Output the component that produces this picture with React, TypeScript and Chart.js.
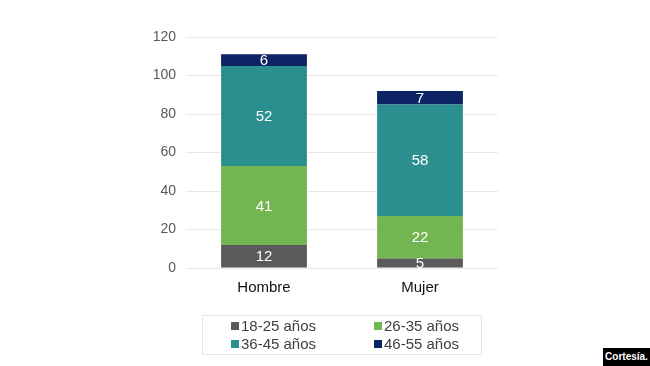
import React, { useEffect, useRef } from "react";
import { Chart, registerables } from "chart.js";

Chart.register(...registerables);

const categories = ["Hombre", "Mujer"];
const seriesNames = ["18-25 años", "26-35 años", "36-45 años", "46-55 años"];
const seriesColors = ["#5a5a5a", "#72b551", "#2b8f8f", "#0d2464"];
const v18_25 = [12, 5];
const v26_35 = [41, 22];
const v36_45 = [52, 58];
const v46_55 = [6, 7];
const seriesValues = [v18_25, v26_35, v36_45, v46_55];
const yTicks = [0, 20, 40, 60, 80, 100, 120];
const creditText = "Cortesía.";

const FONT = "'Liberation Sans', Arial, sans-serif";

const labelPlugin = {
  id: "segLabels",
  afterDatasetsDraw(chart: any) {
    const ctx = chart.ctx;
    ctx.save();
    ctx.font = `15px ${FONT}`;
    ctx.fillStyle = "#ffffff";
    ctx.textAlign = "center";
    ctx.textBaseline = "middle";
    chart.data.datasets.forEach((ds: any, i: number) => {
      const meta = chart.getDatasetMeta(i);
      meta.data.forEach((bar: any, j: number) => {
        const y = (bar.y + bar.base) / 2;
        ctx.fillText(String(ds.data[j]), bar.x, y + 1);
      });
    });
    ctx.restore();
  },
};

export default function App() {
  const ref = useRef<HTMLCanvasElement>(null);
  useEffect(() => {
    if (!ref.current) return;
    const chart = new Chart(ref.current, {
      type: "bar",
      data: {
        labels: categories,
        datasets: seriesNames.map((n, i) => ({
          label: n,
          data: seriesValues[i],
          backgroundColor: seriesColors[i],
          borderWidth: 0,
          categoryPercentage: 0.55,
          barPercentage: 1,
        })),
      },
      options: {
        animation: false,
        responsive: false,
        devicePixelRatio: 1,
        layout: { padding: { left: 141, right: 152, top: 37, bottom: 68 } },
        plugins: { legend: { display: false }, tooltip: { enabled: false } },
        scales: {
          x: {
            stacked: true,
            grid: { display: false },
            border: { display: false },
            ticks: { color: "#111111", font: { family: FONT, size: 15 }, padding: 3 },
            afterFit: (s: any) => { s.height = 30; },
          },
          y: {
            stacked: true,
            min: 0,
            max: 120,
            afterBuildTicks: (s: any) => { s.ticks = yTicks.map((v) => ({ value: v })); },
            grid: { color: "#e8e8e8", drawTicks: false },
            border: { display: false },
            ticks: { color: "#595959", font: { family: FONT, size: 14 }, padding: 10 },
            afterFit: (s: any) => { s.width = 45; },
          },
        },
      },
      plugins: [labelPlugin],
    });
    return () => chart.destroy();
  }, []);

  return (
    <div style={{ position: "absolute", left: 0, top: 0, width: 650, height: 366, background: "#fff", fontFamily: FONT }}>
      <canvas ref={ref} width={650} height={366} style={{ position: "absolute", left: 0, top: 0 }} />
      <div
        style={{
          position: "absolute",
          left: 202,
          top: 315,
          width: 280,
          height: 40,
          border: "1px solid #e6e6e6",
          boxSizing: "border-box",
        }}
      >
        {seriesNames.map((n, i) => (
          <div
            key={n}
            style={{
              position: "absolute",
              left: i % 2 === 0 ? 28 : 171,
              top: i < 2 ? 1 : 19,
              display: "flex",
              alignItems: "center",
              fontSize: 15,
              color: "#404040",
              lineHeight: "18px",
              whiteSpace: "nowrap",
            }}
          >
            <span style={{ display: "inline-block", width: 8, height: 8, background: seriesColors[i], marginRight: 2 }} />
            {n}
          </div>
        ))}
      </div>
      <div
        style={{
          position: "absolute",
          left: 603,
          top: 348,
          width: 47,
          height: 18,
          background: "#000",
          color: "#fff",
          fontSize: 10,
          fontWeight: "bold",
          lineHeight: "18px",
          textAlign: "center",
        }}
      >
        {creditText}
      </div>
    </div>
  );
}
